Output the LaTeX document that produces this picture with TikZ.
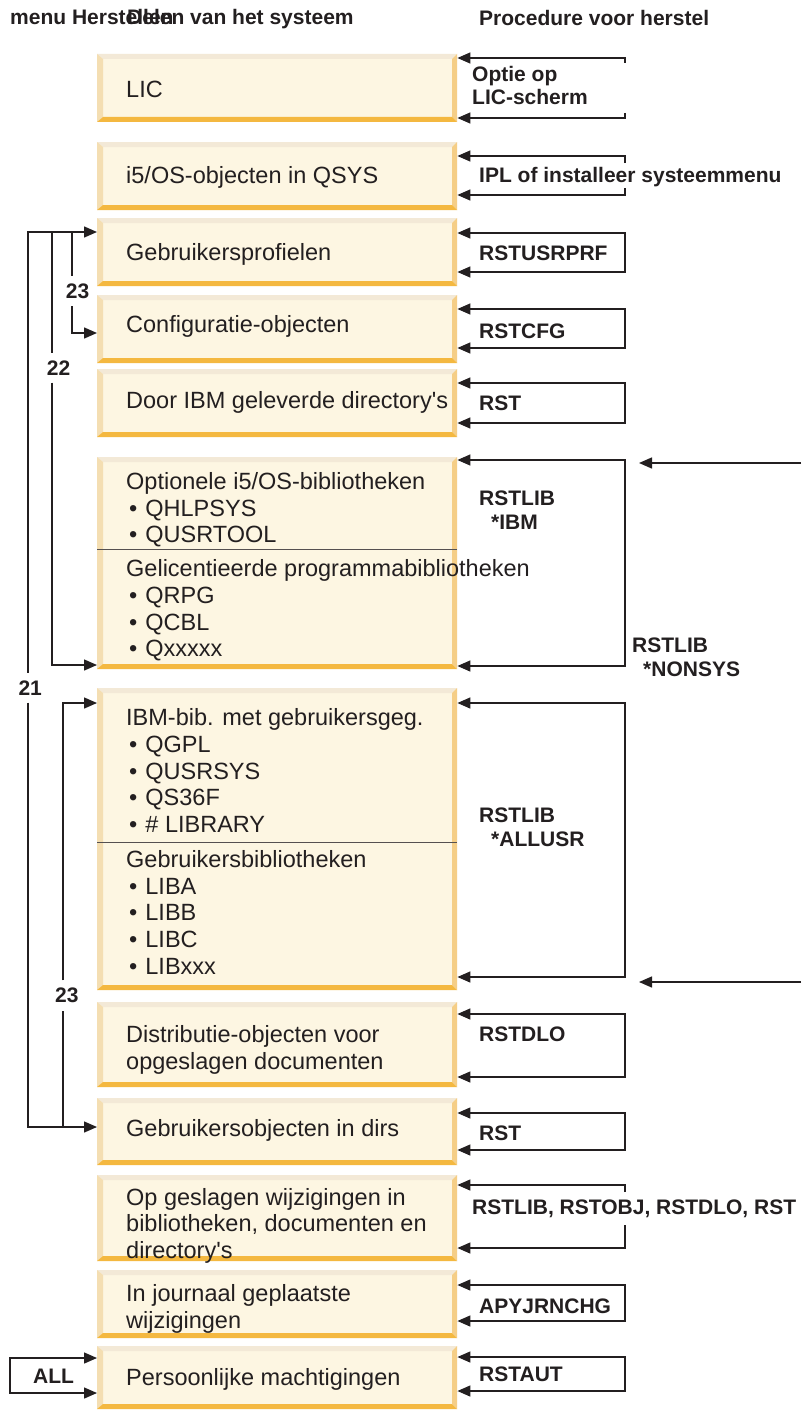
\documentclass[tikz,border=0pt]{standalone}
\usepackage{fontspec}
\setmainfont{Liberation Sans}
\usetikzlibrary{arrows.meta}

\definecolor{ink}{HTML}{231F20}
\definecolor{cream}{HTML}{FDF6E2}
\definecolor{bevtop}{HTML}{F3E9D7}
\definecolor{bevleft}{HTML}{F4DEB2}
\definecolor{bevright}{HTML}{F5CE87}
\definecolor{bevbot}{HTML}{F4B840}
\definecolor{rulegray}{HTML}{555050}

% multi-line nodes are placed by the baseline of their last line
\tikzset{
  panelbox/.style={rectangle, fill=cream, draw=none, inner sep=0pt,
    minimum width=360pt, anchor=north west},
  boxtext/.style={anchor=base west, inner sep=0pt, align=left, text=ink,
    font=\fontsize{23.5}{26.7}\selectfont},
  cmd/.style={anchor=base west, inner sep=0pt, align=left, text=ink,
    font=\bfseries\fontsize{21}{24.2}\selectfont},
  optnum/.style={anchor=base west, inner xsep=0pt, inner ysep=7.5pt, text=ink,
    font=\bfseries\fontsize{21}{24}\selectfont},
  flow/.style={draw=ink, line width=1.4pt},
  tip/.style={flow, -{Triangle[length=13pt,width=11pt]}},
  tips/.style={flow, {Triangle[length=13pt,width=11pt]}-{Triangle[length=13pt,width=11pt]}},
  divider/.style={draw=rulegray, line width=0.9pt},
}

% bevelled panel: name, top y, bottom y
\newcommand\sysbox[3]{%
  \node[panelbox, minimum height={#3-#2}] (#1) at (97,#2) {};
  \fill[bevtop]   (97,#2) -- (457,#2) -- (452,#2+5) -- (103,#2+5) -- cycle;
  \fill[bevleft]  (97,#2) -- (103,#2+5) -- (103,#3-5) -- (97,#3) -- cycle;
  \fill[bevright] (457,#2) -- (457,#3) -- (452,#3-5) -- (452,#2+5) -- cycle;
  \fill[bevbot]   (97,#3) -- (457,#3) -- (452,#3-5) -- (103,#3-5) -- cycle;
}
% restore bracket on the right: panel, upper y, lower y
\newcommand\rstbracket[3]{%
  \draw[tips] (#1.east |- 0,#2) -- (625,#2) -- (625,#3) -- (#1.east |- 0,#3);
}
% open bracket (label crosses the rail): panel, y1, stub1, stub2, y2
\newcommand\rststubs[5]{%
  \draw[tip] (625,#3) -- (625,#2) -- (#1.east |- 0,#2);
  \draw[tip] (625,#4) -- (625,#5) -- (#1.east |- 0,#5);
}
\newcommand\libitem{\hspace*{3pt}•\hspace{8pt}}

\begin{document}
\begin{tikzpicture}[x=1pt,y=-1pt]
\fill[white] (0,0) rectangle (801,1410);
\useasboundingbox (0,0) rectangle (801,1410);

% column headings
\node[cmd] (hmenu) at (10,25) {menu Herstellen};
\node[cmd] (hparts) at (127,25) {Delen van het systeem};
\node[cmd] (hproc) at (479,26) {Procedure voor herstel};

% system parts
\sysbox{b1}{54}{122}
\sysbox{b2}{142}{210}
\sysbox{b3}{218}{286}
\sysbox{b4}{295}{363}
\sysbox{b5}{369}{437}
\sysbox{b6}{457}{669}
\sysbox{b7}{688}{990}
\sysbox{b8}{1002}{1087}
\sysbox{b9}{1098}{1165}
\sysbox{b10}{1175}{1261}
\sysbox{b11}{1270}{1338}
\sysbox{b12}{1346}{1409}

\draw[divider] (b6.west |- 0,549) -- (b6.east |- 0,549);
\draw[divider] (b7.west |- 0,842) -- (b7.east |- 0,842);

\node[boxtext] (t1) at (126,97.7) {LIC};
\node[boxtext] (t2) at (126,183.5) {i5/OS-objecten in QSYS};
\node[boxtext] (t3) at (126,260.3) {Gebruikersprofielen};
\node[boxtext] (t4) at (126,332) {Configuratie-objecten};
\node[boxtext] (t5) at (126,408.5) {Door IBM geleverde directory\textquotesingle s};
\node[boxtext] (t6) at (126,656.8) {Optionele i5/OS-bibliotheken\\
  \libitem QHLPSYS\\ \libitem QUSRTOOL\\[7.3pt]
  Gelicentieerde programmabibliotheken\\
  \libitem QRPG\\ \libitem QCBL\\ \libitem Qxxxxx};
\node[boxtext] (t7) at (126,974.3) {IBM-bib. met gebruikersgeg.\\
  \libitem QGPL\\ \libitem QUSRSYS\\ \libitem QS36F\\ \libitem \# LIBRARY\\[8.3pt]
  Gebruikersbibliotheken\\
  \libitem LIBA\\ \libitem LIBB\\ \libitem LIBC\\ \libitem LIBxxx};
\node[boxtext] (t8) at (126,1069) {Distributie-objecten voor\\opgeslagen documenten};
\node[boxtext] (t9) at (126,1136.7) {Gebruikersobjecten in dirs};
\node[boxtext] (t10) at (126,1258.4) {Op geslagen wijzigingen in\\bibliotheken, documenten en\\directory\textquotesingle s};
\node[boxtext] (t11) at (126,1328.4) {In journaal geplaatste\\wijzigingen};
\node[boxtext] (t12) at (126,1385) {Persoonlijke machtigingen};

% restore procedures
\rststubs{b1}{58}{63}{113}{118}
\rststubs{b2}{156}{163}{188}{195}
\rstbracket{b3}{233}{272}
\rstbracket{b4}{309}{348}
\rstbracket{b5}{383}{423}
\rstbracket{b6}{460}{666}
\rstbracket{b7}{703}{977}
\rstbracket{b8}{1014}{1077}
\rstbracket{b9}{1113}{1150}
\rststubs{b10}{1185}{1192}{1225}{1248}
\rstbracket{b11}{1285}{1321}
\rstbracket{b12}{1357}{1391}

\node[cmd, font=\bfseries\fontsize{21}{23.3}\selectfont] (p1) at (472,105) {Optie op\\LIC-scherm};
\node[cmd] (p2) at (479,182.7) {IPL of installeer systeemmenu};
\node[cmd] (p3) at (479,260.7) {RSTUSRPRF};
\node[cmd] (p4) at (479,338.3) {RSTCFG};
\node[cmd] (p5) at (479,410) {RST};
\node[cmd] (p6) at (479,529.2) {RSTLIB\\\hspace*{12pt}*IBM};
\node[cmd] (p6n) at (632,676.9) {RSTLIB\\\hspace*{11pt}*NONSYS};
\node[cmd] (p7) at (479,846.9) {RSTLIB\\\hspace*{12pt}*ALLUSR};
\node[cmd] (p8) at (479,1041.7) {RSTDLO};
\node[cmd] (p9) at (479,1140) {RST};
\node[cmd] (p10) at (472,1214) {RSTLIB, RSTOBJ, RSTDLO, RST};
\node[cmd] (p11) at (479,1313.3) {APYJRNCHG};
\node[cmd] (p12) at (479,1381.7) {RSTAUT};

% incoming from the right
\coordinate (inA) at (801,463);
\coordinate (inAtip) at (639,463);
\coordinate (inB) at (801,982);
\coordinate (inBtip) at (639,982);
\draw[tip] (inA) -- (inAtip);
\draw[tip] (inB) -- (inBtip);

% restore menu options on the left
\node[optnum] (n23a) at (65.7,298.3) {23};
\node[optnum] (n22) at (46.7,375) {22};
\node[optnum] (n21) at (18.3,695) {21};
\node[optnum] (n23b) at (55,1002.7) {23};

\draw[tip] (n21.north -| 28,0) -- (28,232) -- (b3.west |- 0,232);
\draw[tip] (n21.south -| 28,0) -- (28,1127) -- (b9.west |- 0,1127);
\draw[flow] (52,232) -- (n22.north -| 52,0);
\draw[tip] (n22.south -| 52,0) -- (52,665) -- (b6.west |- 0,665);
\draw[flow] (72,232) -- (n23a.north -| 72,0);
\draw[tip] (n23a.south -| 72,0) -- (72,333) -- (b4.west |- 0,333);
\draw[flow] (63,1127) -- (n23b.south -| 63,0);
\draw[tip] (n23b.north -| 63,0) -- (63,703) -- (b7.west |- 0,703);

\node[cmd] (all) at (33,1383.3) {ALL};
\draw[tips] (b12.west |- 0,1358) -- (10,1358) -- (10,1393) -- (b12.west |- 0,1393);
\end{tikzpicture}
\end{document}
